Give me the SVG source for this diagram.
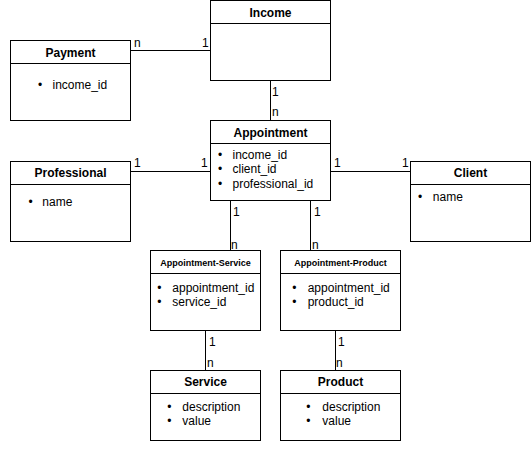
<svg xmlns="http://www.w3.org/2000/svg" width="531" height="451" viewBox="0 0 531 451">
<style>
.box{fill:#fff;stroke:#000;stroke-width:1}
.div{stroke:#000;stroke-width:1}
.h{font-family:"Liberation Sans",Arial,sans-serif;font-size:12px;font-weight:bold;text-anchor:middle;fill:#000}
.hs{font-family:"Liberation Sans",Arial,sans-serif;font-size:9px;font-weight:bold;text-anchor:middle;fill:#000}
.t{font-family:"Liberation Sans",Arial,sans-serif;font-size:12px;fill:#000}
.b{font-family:"Liberation Sans",Arial,sans-serif;font-size:12px;fill:#000;text-anchor:middle}
.c{font-family:"Liberation Sans",Arial,sans-serif;font-size:12px;fill:#000}
.ln{stroke:#000;stroke-width:1;fill:none}
</style>
<rect width="531" height="451" fill="#fff"/>
<g id="connectors">
<path class="ln" d="M130.5 50.5H210.5"/>
<path class="ln" d="M270.5 80.5V120.5"/>
<path class="ln" d="M130.5 171.5H210.5"/>
<path class="ln" d="M330.5 171.5H410.5"/>
<path class="ln" d="M230.5 200.5V250.5"/>
<path class="ln" d="M310.5 200.5V250.5"/>
<path class="ln" d="M205.5 330.5V370.5"/>
<path class="ln" d="M335.5 330.5V370.5"/>
<text class="c" x="134" y="47">n</text>
<text class="c" x="202" y="47">1</text>
<text class="c" x="272" y="96">1</text>
<text class="c" x="272" y="116">n</text>
<text class="c" x="134" y="167">1</text>
<text class="c" x="201" y="167">1</text>
<text class="c" x="334" y="167">1</text>
<text class="c" x="402" y="167">1</text>
<text class="c" x="233" y="216">1</text>
<text class="c" x="231" y="249">n</text>
<text class="c" x="314" y="216">1</text>
<text class="c" x="312" y="249">n</text>
<text class="c" x="209" y="346">1</text>
<text class="c" x="207" y="367">n</text>
<text class="c" x="338" y="346">1</text>
<text class="c" x="336" y="367">n</text>
</g>
<g id="income">
<rect class="box" x="210.5" y="0.5" width="120" height="80"/>
<path class="div" d="M210.5 23.5H330.5"/>
<text class="h" x="270.5" y="16.5">Income</text>
</g>
<g id="payment">
<rect class="box" x="10.5" y="40.5" width="120" height="80"/>
<path class="div" d="M10.5 63.5H130.5"/>
<text class="h" x="70.5" y="57">Payment</text>
<text class="b" x="40" y="89">•</text>
<text class="t" x="52.5" y="89">income_id</text>
</g>
<g id="appointment">
<rect class="box" x="210.5" y="120.5" width="120" height="80"/>
<path class="div" d="M210.5 143.5H330.5"/>
<text class="h" x="270.5" y="137">Appointment</text>
<text class="b" x="220" y="159">•</text>
<text class="t" x="232.5" y="159">income_id</text>
<text class="b" x="220" y="173.4">•</text>
<text class="t" x="232.5" y="173.4">client_id</text>
<text class="b" x="220" y="187.8">•</text>
<text class="t" x="232.5" y="187.8">professional_id</text>
</g>
<g id="professional">
<rect class="box" x="10.5" y="161.5" width="120" height="80"/>
<path class="div" d="M10.5 184.5H130.5"/>
<text class="h" x="70.5" y="177">Professional</text>
<text class="b" x="30.5" y="205.5">•</text>
<text class="t" x="42.3" y="205.5">name</text>
</g>
<g id="client">
<rect class="box" x="410.5" y="161.5" width="120" height="80"/>
<path class="div" d="M410.5 184.5H530.5"/>
<text class="h" x="470.5" y="177">Client</text>
<text class="b" x="420" y="200.5">•</text>
<text class="t" x="432.8" y="200.5">name</text>
</g>
<g id="appointment-service">
<rect class="box" x="150.5" y="250.5" width="110" height="80"/>
<path class="div" d="M150.5 273.5H260.5"/>
<text class="hs" x="205.5" y="266">Appointment-Service</text>
<text class="b" x="159.3" y="292">•</text>
<text class="t" x="172.3" y="292">appointment_id</text>
<text class="b" x="159.3" y="306.4">•</text>
<text class="t" x="172.3" y="306.4">service_id</text>
</g>
<g id="appointment-product">
<rect class="box" x="280.5" y="250.5" width="120" height="80"/>
<path class="div" d="M280.5 273.5H400.5"/>
<text class="hs" x="340.5" y="266">Appointment-Product</text>
<text class="b" x="294.3" y="292">•</text>
<text class="t" x="307.7" y="292">appointment_id</text>
<text class="b" x="294.3" y="306.4">•</text>
<text class="t" x="307.7" y="306.4">product_id</text>
</g>
<g id="service">
<rect class="box" x="150.5" y="370.5" width="110" height="70"/>
<path class="div" d="M150.5 393.5H260.5"/>
<text class="h" x="205.5" y="386">Service</text>
<text class="b" x="169.3" y="411">•</text>
<text class="t" x="182.3" y="411">description</text>
<text class="b" x="169.3" y="425.4">•</text>
<text class="t" x="182.3" y="425.4">value</text>
</g>
<g id="product">
<rect class="box" x="280.5" y="370.5" width="120" height="70"/>
<path class="div" d="M280.5 393.5H400.5"/>
<text class="h" x="340.5" y="386">Product</text>
<text class="b" x="308.3" y="411">•</text>
<text class="t" x="322.3" y="411">description</text>
<text class="b" x="308.3" y="425.4">•</text>
<text class="t" x="322.3" y="425.4">value</text>
</g>
</svg>
